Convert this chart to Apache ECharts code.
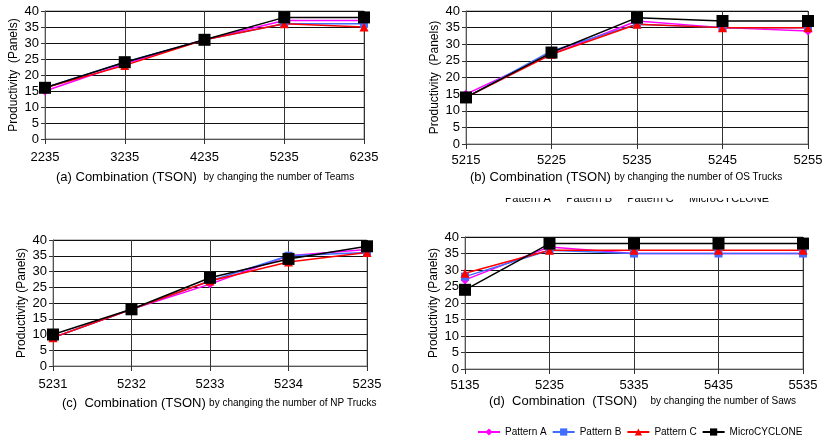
<!DOCTYPE html>
<html><head><meta charset="utf-8">
<script src="https://cdn.jsdelivr.net/npm/echarts@6/dist/echarts.min.js"></script>
<style>html,body{margin:0;padding:0;background:#fff}#c{width:827px;height:442px}</style>
</head><body><div id="c"></div>
<script>
const seriesNames = ['Pattern A', 'Pattern B', 'Pattern C', 'MicroCYCLONE'];
const catsA = ['2235', '3235', '4235', '5235', '6235'];
const catsB = ['5215', '5225', '5235', '5245', '5255'];
const catsC = ['5231', '5232', '5233', '5234', '5235'];
const catsD = ['5135', '5235', '5335', '5435', '5535'];
const yTicks = [0, 5, 10, 15, 20, 25, 30, 35, 40];

const dataA = {
  'Pattern A': [15, 23.5, 31, 37, 37],
  'Pattern B': [16, 24, 31, 36, 36],
  'Pattern C': [16, 23, 31, 36, 35],
  'MicroCYCLONE': [16, 24, 31, 38, 38]
};
const dataB = {
  'Pattern A': [15, 27, 37, 35, 34],
  'Pattern B': [14, 28, 36, 35, 35],
  'Pattern C': [14, 27, 36, 35, 35],
  'MicroCYCLONE': [14, 27.5, 38, 37, 37]
};
const dataC = {
  'Pattern A': [9, 18, 26, 35, 37],
  'Pattern B': [9, 18, 27, 35, 36],
  'Pattern C': [9, 18, 27, 33, 36],
  'MicroCYCLONE': [10, 18, 28, 34, 38]
};
const dataD = {
  'Pattern A': [27, 37, 35, 35, 35],
  'Pattern B': [28, 36, 35, 35, 35],
  'Pattern C': [29, 36, 36, 36, 36],
  'MicroCYCLONE': [24, 38, 38, 38, 38]
};

const FONT = 'Liberation Sans, Arial, sans-serif';
const styles = {
  'Pattern A': {color: '#ff00ff', symbol: 'diamond', size: 9},
  'Pattern B': {color: '#3f6dff', symbol: 'rect', size: 8},
  'Pattern C': {color: '#ff0000', symbol: 'triangle', size: 9},
  'MicroCYCLONE': {color: '#000000', symbol: 'rect', size: 12}
};

const panels = [
  {cats: catsA, data: dataA, grid: {left: 45, top: 11, width: 319, height: 128}, yname: 'Productivity  (Panels)', lm: 12},
  {cats: catsB, data: dataB, grid: {left: 466, top: 11, width: 342, height: 133}, yname: 'Productivity  (Panels)', lm: 10},
  {cats: catsC, data: dataC, grid: {left: 53, top: 240, width: 314, height: 126}, yname: 'Productivity (Panels)', lm: 12},
  {cats: catsD, data: dataD, grid: {left: 465, top: 237, width: 338, height: 132}, yname: 'Productivity (Panels)', lm: 10}
];

const grids = [], xAxes = [], yAxes = [], series = [];
panels.forEach((p, i) => {
  grids.push(Object.assign({show: true, borderColor: '#888', borderWidth: 1}, p.grid));
  xAxes.push({
    type: 'category', gridIndex: i, data: p.cats, boundaryGap: false,
    axisLine: {lineStyle: {color: '#555', width: 1}},
    axisTick: {show: true, length: 5, lineStyle: {color: '#333'}},
    axisLabel: {color: '#000', fontFamily: FONT, fontSize: 13, margin: p.lm, interval: 0},
    splitLine: {show: true, lineStyle: {color: '#333', width: 1}}
  });
  yAxes.push({
    type: 'value', gridIndex: i, min: yTicks[0], max: yTicks[yTicks.length - 1], interval: 5,
    name: p.yname, nameLocation: 'middle', nameGap: 25, nameRotate: 90,
    nameTextStyle: {color: '#000', fontFamily: FONT, fontSize: 12},
    axisLine: {show: true, lineStyle: {color: '#555'}},
    axisTick: {show: true, length: 4, lineStyle: {color: '#333'}},
    axisLabel: {color: '#000', fontFamily: FONT, fontSize: 13, margin: 6},
    splitLine: {show: true, lineStyle: {color: '#111', width: 1}}
  });
  seriesNames.forEach(n => {
    const s = styles[n];
    series.push({
      name: n, type: 'line', xAxisIndex: i, yAxisIndex: i,
      data: p.data[n], symbol: s.symbol, symbolSize: s.size,
      itemStyle: {color: s.color}, lineStyle: {color: s.color, width: 1.5},
      z: n === 'MicroCYCLONE' ? 5 : 3
    });
  });
});

function caption(x, y, big, small, gap) {
  return {
    type: 'text', left: x, top: y,
    style: {
      text: '{a|' + big + '}' + gap + '{b|' + small + '}',
      rich: {
        a: {fontFamily: FONT, fontSize: 13, fill: '#000'},
        b: {fontFamily: FONT, fontSize: 10, fill: '#000'}
      }
    }
  };
}

const chart = echarts.init(document.getElementById('c'), null, {renderer: 'canvas'});
chart.setOption({
  animation: false,
  backgroundColor: '#fff',
  grid: grids, xAxis: xAxes, yAxis: yAxes, series: series,
  legend: {
    data: seriesNames, left: 477, top: 427, width: 360, padding: 0,
    itemWidth: 22, itemHeight: 9, itemGap: 5,
    textStyle: {fontFamily: FONT, fontSize: 10, color: '#000'}
  },
  graphic: [
    caption(56, 171, '(a) Combination (TSON)', 'by changing the number of Teams', '  '),
    caption(470, 171, '(b) Combination (TSON)', 'by changing the number of OS Trucks', ' '),
    caption(62, 397, '(c)  Combination (TSON)', 'by changing the number of NP Trucks', ' '),
    caption(489, 395, '(d)  Combination  (TSON)', 'by changing the number of Saws', '    '),
    {type: 'text', left: 505, top: 193, z: 1,
     style: {text: 'Pattern A     Pattern B     Pattern C     MicroCYCLONE', fontFamily: FONT, fontSize: 11, fill: '#000'}},
    {type: 'rect', left: 500, top: 186, z: 2, shape: {width: 320, height: 12}, style: {fill: '#fff'}},
    {type: 'rect', left: 500, top: 202, z: 2, shape: {width: 320, height: 12}, style: {fill: '#fff'}}
  ]
});
</script>
</body></html>
